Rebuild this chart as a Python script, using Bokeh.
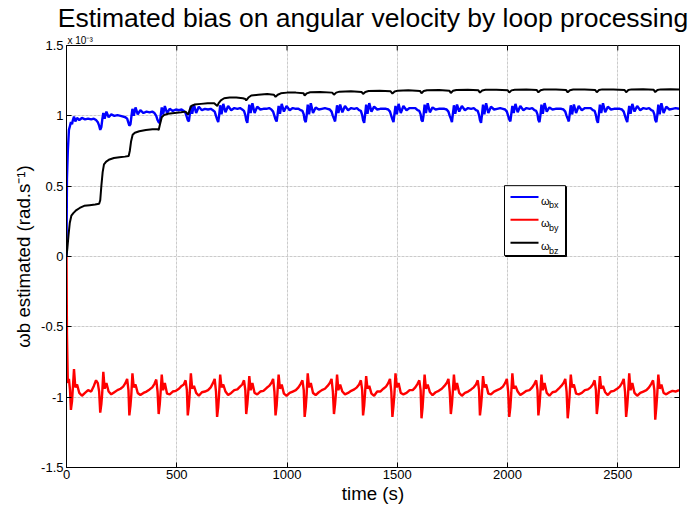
from bokeh.plotting import figure
from bokeh.models import (Range1d, FixedTicker, LinearAxis, CustomJSTickFormatter, Grid, Title)
from bokeh.core.properties import value
from bokeh.embed import file_html
from bokeh.resources import INLINE

# ---------------- data (values in units of 1e-3 rad/s) ----------------
time_rb = [
    0, 2, 6, 11, 16,
    20, 25, 29, 34, 40, 48, 58, 70, 84, 98, 112, 124, 134, 142, 148,
    153, 158, 162, 167, 173, 181, 191, 203, 217, 231, 245, 257, 267, 275, 281,
    285, 290, 294, 299, 305, 313, 323, 335, 349, 363, 377, 389, 399, 407, 413,
    418, 423, 427, 432, 438, 446, 456, 468, 482, 496, 510, 522, 532, 540, 546,
    550, 555, 559, 564, 570, 578, 588, 600, 614, 628, 642, 654, 664, 672, 678,
    683, 688, 692, 697, 703, 711, 721, 733, 747, 761, 775, 787, 797, 805, 811,
    815, 820, 824, 829, 835, 843, 853, 865, 879, 893, 907, 919, 929, 937, 943,
    948, 953, 957, 962, 968, 976, 986, 998, 1012, 1026, 1040, 1052, 1062, 1070, 1076,
    1080, 1085, 1089, 1094, 1100, 1108, 1118, 1130, 1144, 1158, 1172, 1184, 1194, 1202, 1208,
    1213, 1218, 1222, 1227, 1233, 1241, 1251, 1263, 1277, 1291, 1305, 1317, 1327, 1335, 1341,
    1345, 1350, 1354, 1359, 1365, 1373, 1383, 1395, 1409, 1423, 1437, 1449, 1459, 1467, 1473,
    1478, 1483, 1487, 1492, 1498, 1506, 1516, 1528, 1542, 1556, 1570, 1582, 1592, 1600, 1606,
    1610, 1615, 1619, 1624, 1630, 1638, 1648, 1660, 1674, 1688, 1702, 1714, 1724, 1732, 1738,
    1743, 1748, 1752, 1757, 1763, 1771, 1781, 1793, 1807, 1821, 1835, 1847, 1857, 1865, 1871,
    1875, 1880, 1884, 1889, 1895, 1903, 1913, 1925, 1939, 1953, 1967, 1979, 1989, 1997, 2003,
    2008, 2013, 2017, 2022, 2028, 2036, 2046, 2058, 2072, 2086, 2100, 2112, 2122, 2130, 2136,
    2140, 2145, 2149, 2154, 2160, 2168, 2178, 2190, 2204, 2218, 2232, 2244, 2254, 2262, 2268,
    2273, 2278, 2282, 2287, 2293, 2301, 2311, 2323, 2337, 2351, 2365, 2377, 2387, 2395, 2401,
    2405, 2410, 2414, 2419, 2425, 2433, 2443, 2455, 2469, 2483, 2497, 2509, 2519, 2527, 2533,
    2538, 2543, 2547, 2552, 2558, 2566, 2576, 2588, 2602, 2616, 2630, 2642, 2652, 2660, 2666,
    2670, 2675, 2679, 2684, 2690, 2698, 2708, 2720, 2734, 2748, 2762, 2778,
]

w_bx = [
    0.0, 0.55, 0.75, 0.90, 0.93,
    0.955, 0.94, 0.97, 0.995, 0.96, 0.985, 0.97, 0.985, 0.975, 0.98, 0.975, 0.98, 0.97, 0.955, 0.93,
    0.90, 0.92, 0.97, 1.02, 0.98, 1.03, 0.99, 1.01, 1.0, 1.005, 1.0, 0.995, 0.99, 0.98, 0.95,
    0.93, 0.94, 0.99, 1.05, 1.0, 1.06, 1.01, 1.04, 1.02, 1.03, 1.025, 1.03, 1.02, 1.0, 0.97,
    0.955, 0.95, 1.0, 1.06, 1.01, 1.07, 1.02, 1.05, 1.035, 1.045, 1.04, 1.045, 1.035, 1.02, 0.99,
    0.97, 0.96, 1.01, 1.07, 1.015, 1.08, 1.02, 1.065, 1.04, 1.05, 1.045, 1.05, 1.04, 1.03, 1.0,
    0.975, 0.955, 1.00, 1.075, 1.01, 1.085, 1.025, 1.07, 1.04, 1.055, 1.05, 1.055, 1.045, 1.035, 1.005,
    0.97, 0.95, 1.01, 1.08, 1.02, 1.09, 1.02, 1.065, 1.045, 1.05, 1.05, 1.055, 1.045, 1.03, 1.0,
    0.975, 0.96, 1.005, 1.07, 1.015, 1.085, 1.03, 1.07, 1.04, 1.055, 1.05, 1.05, 1.04, 1.035, 1.01,
    0.97, 0.955, 1.00, 1.08, 1.01, 1.09, 1.02, 1.06, 1.045, 1.05, 1.055, 1.05, 1.045, 1.03, 1.0,
    0.98, 0.96, 1.01, 1.075, 1.02, 1.08, 1.025, 1.07, 1.04, 1.055, 1.05, 1.055, 1.04, 1.035, 1.005,
    0.97, 0.95, 1.005, 1.08, 1.015, 1.09, 1.03, 1.065, 1.045, 1.05, 1.05, 1.05, 1.045, 1.03, 1.0,
    0.975, 0.955, 1.01, 1.07, 1.01, 1.085, 1.02, 1.07, 1.04, 1.055, 1.055, 1.055, 1.04, 1.035, 1.01,
    0.97, 0.96, 1.0, 1.08, 1.02, 1.09, 1.025, 1.06, 1.045, 1.05, 1.05, 1.05, 1.045, 1.03, 1.0,
    0.98, 0.955, 1.01, 1.075, 1.015, 1.08, 1.03, 1.07, 1.04, 1.055, 1.05, 1.055, 1.04, 1.035, 1.005,
    0.97, 0.95, 1.005, 1.08, 1.01, 1.09, 1.02, 1.065, 1.045, 1.05, 1.055, 1.05, 1.045, 1.03, 1.0,
    0.975, 0.96, 1.01, 1.07, 1.02, 1.085, 1.025, 1.07, 1.04, 1.055, 1.05, 1.055, 1.04, 1.035, 1.01,
    0.97, 0.955, 1.0, 1.08, 1.015, 1.09, 1.03, 1.06, 1.045, 1.05, 1.05, 1.05, 1.045, 1.03, 1.0,
    0.98, 0.96, 1.01, 1.075, 1.01, 1.08, 1.02, 1.07, 1.04, 1.055, 1.055, 1.055, 1.04, 1.035, 1.005,
    0.97, 0.95, 1.005, 1.08, 1.02, 1.09, 1.025, 1.065, 1.045, 1.05, 1.05, 1.05, 1.045, 1.03, 1.0,
    0.975, 0.955, 1.01, 1.07, 1.015, 1.085, 1.03, 1.07, 1.04, 1.055, 1.05, 1.055, 1.04, 1.035, 1.01,
    0.97, 0.955, 1.0, 1.08, 1.01, 1.09, 1.02, 1.065, 1.045, 1.05, 1.055, 1.05,
]

w_by = [
    0.0, -0.55, -0.90, -0.87, -0.95,
    -1.09, -1.03, -0.93, -0.80, -0.93, -0.91, -0.97, -0.99, -0.97, -0.95, -0.96, -0.92, -0.88, -0.90, -0.96,
    -1.11, -1.05, -0.97, -0.82, -0.94, -0.90, -0.96, -0.98, -0.965, -0.95, -0.94, -0.925, -0.90, -0.87, -0.95,
    -1.13, -1.06, -0.98, -0.83, -0.93, -0.91, -0.97, -0.985, -0.97, -0.96, -0.945, -0.93, -0.905, -0.875, -0.96,
    -1.12, -1.05, -0.96, -0.84, -0.95, -0.90, -0.975, -0.98, -0.96, -0.955, -0.94, -0.92, -0.91, -0.88, -0.95,
    -1.13, -1.06, -0.97, -0.83, -0.94, -0.92, -0.97, -0.99, -0.965, -0.96, -0.95, -0.93, -0.90, -0.87, -0.96,
    -1.14, -1.07, -0.98, -0.84, -0.93, -0.91, -0.96, -0.985, -0.97, -0.95, -0.945, -0.925, -0.91, -0.88, -0.95,
    -1.12, -1.05, -0.97, -0.85, -0.95, -0.90, -0.97, -0.98, -0.96, -0.955, -0.935, -0.92, -0.90, -0.87, -0.96,
    -1.13, -1.06, -0.96, -0.84, -0.94, -0.91, -0.975, -0.99, -0.97, -0.96, -0.95, -0.93, -0.905, -0.88, -0.95,
    -1.14, -1.07, -0.98, -0.83, -0.93, -0.90, -0.97, -0.985, -0.965, -0.95, -0.94, -0.92, -0.90, -0.87, -0.96,
    -1.12, -1.05, -0.97, -0.84, -0.95, -0.91, -0.96, -0.98, -0.97, -0.955, -0.945, -0.93, -0.91, -0.88, -0.95,
    -1.13, -1.06, -0.97, -0.85, -0.94, -0.92, -0.975, -0.99, -0.96, -0.96, -0.94, -0.925, -0.90, -0.87, -0.96,
    -1.14, -1.06, -0.98, -0.83, -0.93, -0.90, -0.97, -0.98, -0.97, -0.95, -0.95, -0.93, -0.905, -0.88, -0.95,
    -1.15, -1.07, -0.97, -0.84, -0.94, -0.91, -0.965, -0.985, -0.965, -0.955, -0.94, -0.92, -0.90, -0.87, -0.96,
    -1.12, -1.05, -0.96, -0.84, -0.95, -0.90, -0.97, -0.99, -0.97, -0.96, -0.945, -0.93, -0.91, -0.88, -0.95,
    -1.13, -1.06, -0.98, -0.85, -0.93, -0.91, -0.975, -0.98, -0.96, -0.95, -0.94, -0.925, -0.90, -0.87, -0.96,
    -1.14, -1.07, -0.97, -0.83, -0.94, -0.92, -0.96, -0.985, -0.97, -0.955, -0.95, -0.93, -0.905, -0.88, -0.95,
    -1.13, -1.06, -0.97, -0.84, -0.95, -0.90, -0.97, -0.99, -0.965, -0.96, -0.94, -0.92, -0.90, -0.87, -0.96,
    -1.15, -1.07, -0.98, -0.84, -0.93, -0.91, -0.975, -0.98, -0.97, -0.95, -0.945, -0.93, -0.91, -0.88, -0.95,
    -1.12, -1.05, -0.96, -0.85, -0.94, -0.92, -0.965, -0.985, -0.96, -0.955, -0.94, -0.925, -0.90, -0.87, -0.96,
    -1.14, -1.06, -0.97, -0.83, -0.95, -0.90, -0.97, -0.99, -0.97, -0.96, -0.95, -0.93, -0.905, -0.88, -0.95,
    -1.16, -1.07, -0.98, -0.84, -0.94, -0.91, -0.97, -0.98, -0.965, -0.955, -0.96, -0.95,
]

time_bz = [
    0, 4, 9, 15, 22, 32, 45, 60, 80, 105,
    130, 148, 153, 158, 164, 170, 180, 195, 215, 240,
    265, 282, 287, 293, 300, 310, 330, 360, 390, 412,
    418, 424, 432, 442, 460, 490, 520, 540, 548, 552,
    558, 566, 580, 610, 640, 670, 680, 684, 690, 700,
    715, 740, 770, 800, 811, 815, 825, 838, 870, 910,
    940, 948, 958, 972, 1000, 1040, 1075, 1080, 1090, 1105,
    1150, 1205, 1213, 1223, 1238, 1290, 1338, 1345, 1355, 1370,
    1420, 1470, 1478, 1488, 1503, 1550, 1603, 1610, 1620, 1635,
    1690, 1736, 1743, 1753, 1768, 1820, 1868, 1875, 1885, 1900,
    1950, 2001, 2008, 2018, 2033, 2085, 2133, 2140, 2150, 2165,
    2220, 2266, 2273, 2283, 2298, 2350, 2398, 2405, 2415, 2430,
    2480, 2531, 2538, 2548, 2563, 2615, 2663, 2670, 2680, 2695,
    2740, 2778,
]

w_bz = [
    0.0, 0.06, 0.15, 0.24, 0.29, 0.31, 0.33, 0.345, 0.36, 0.365,
    0.37, 0.375, 0.40, 0.50, 0.60, 0.655, 0.675, 0.69, 0.70, 0.705,
    0.71, 0.715, 0.75, 0.82, 0.865, 0.88, 0.89, 0.90, 0.905, 0.905,
    0.90, 0.94, 0.99, 1.005, 1.015, 1.02, 1.025, 1.03, 1.015, 1.01,
    1.04, 1.07, 1.08, 1.085, 1.09, 1.09, 1.075, 1.07, 1.09, 1.11,
    1.125, 1.13, 1.13, 1.125, 1.12, 1.11, 1.13, 1.145, 1.15, 1.155,
    1.15, 1.135, 1.15, 1.16, 1.165, 1.165, 1.16, 1.145, 1.16, 1.168,
    1.17, 1.165, 1.15, 1.165, 1.172, 1.174, 1.17, 1.155, 1.17, 1.176,
    1.178, 1.174, 1.158, 1.173, 1.179, 1.181, 1.177, 1.161, 1.176, 1.182,
    1.183, 1.179, 1.163, 1.178, 1.184, 1.185, 1.181, 1.165, 1.18, 1.185,
    1.186, 1.182, 1.166, 1.181, 1.186, 1.187, 1.183, 1.167, 1.182, 1.187,
    1.187, 1.183, 1.167, 1.182, 1.187, 1.188, 1.184, 1.168, 1.183, 1.188,
    1.188, 1.184, 1.168, 1.183, 1.188, 1.189, 1.185, 1.169, 1.183, 1.188,
    1.189, 1.188,
]

x_ticks = [0, 500, 1000, 1500, 2000, 2500]
x_tick_labels = ["0", "500", "1000", "1500", "2000", "2500"]
y_ticks = [-1.5, -1.0, -0.5, 0.0, 0.5, 1.0, 1.5]
y_tick_labels = ["-1.5", "-1", "-0.5", "0", "0.5", "1", "1.5"]
series_subscripts = ["bx", "by", "bz"]
series_colors = ["#0000ff", "#ff0000", "#000000"]
title_text = "Estimated bias on angular velocity by loop processing"
x_label_text = "time (s)"
y_label_text = "ωb estimated (rad.s⁻¹)"
exponent_text = "x 10⁻³"

# ---------------- layout (pixels) ----------------
W, H = 693, 512
L, R, T, B = 66, 14, 41, 45
FW, FH = W - L - R, H - T - B
X0, X1 = 0.0, 2780.0
Y0, Y1 = -1.5, 1.5
FONT = "Liberation Sans"

p = figure(width=W, height=H, output_backend="svg", toolbar_location=None,
           x_range=Range1d(X0, X1), y_range=Range1d(Y0, Y1),
           min_border_left=L, min_border_right=R, min_border_top=T, min_border_bottom=B,
           x_axis_location=None, y_axis_location=None)
p.outline_line_color = "black"
p.outline_line_width = 1

# title + exponent marker (Title models live in the border, so they are not clipped)
p.add_layout(Title(text=exponent_text, align="left", offset=1, standoff=0,
                   text_font=FONT, text_font_size="10px", text_font_style="normal",
                   text_color="black"), "above")
p.title.text = title_text
p.title.align = "center"
p.title.offset = 2
p.title.standoff = 0
p.title.text_font = FONT
p.title.text_font_size = "26.5px"
p.title.text_font_style = "normal"
p.title.text_color = "black"

def px2x(px):
    return X0 + (px - L) / FW * (X1 - X0)

def py2y(py):
    return Y1 - (py - T) / FH * (Y1 - Y0)

def make_axis(ticks, labels, show_labels):
    ax = LinearAxis(ticker=FixedTicker(ticks=ticks))
    if show_labels:
        ax.major_label_overrides = {t: s for t, s in zip(ticks, labels)}
        ax.major_label_text_font_size = "13px"
    else:
        ax.formatter = CustomJSTickFormatter(code="return ''")
        ax.major_label_text_font_size = "0px"
        ax.major_label_standoff = 0
    ax.major_tick_in = 5
    ax.major_tick_out = 0
    ax.minor_tick_in = 0
    ax.minor_tick_out = 0
    ax.axis_line_color = "black"
    ax.major_tick_line_color = "black"
    ax.major_label_text_font = FONT
    ax.major_label_text_color = "black"
    ax.axis_label_text_font = FONT
    ax.axis_label_text_font_size = "18.7px"
    ax.axis_label_text_font_style = "normal"
    ax.axis_label_text_color = "black"
    return ax

xb = make_axis(x_ticks, x_tick_labels, True)
xb.major_label_standoff = 2
xb.axis_label = x_label_text
xb.axis_label_standoff = 1
yl = make_axis(y_ticks, y_tick_labels, True)
yl.major_label_standoff = 3
yl.axis_label = y_label_text
yl.axis_label_standoff = 4
p.add_layout(xb, "below")
p.add_layout(yl, "left")
p.add_layout(make_axis(y_ticks, y_tick_labels, False), "right")

for dim, ticks in ((0, x_ticks), (1, y_ticks)):
    g = Grid(dimension=dim, ticker=FixedTicker(ticks=ticks))
    g.grid_line_color = "#b0b0b0"
    g.grid_line_dash = "1 3"
    g.grid_line_width = 1
    p.add_layout(g)

# inward tick marks on the top edge (box on)
tick_len = 5.0 / FH * (Y1 - Y0)
p.segment(x0=x_ticks, x1=x_ticks, y0=[Y1] * len(x_ticks), y1=[Y1 - tick_len] * len(x_ticks),
          line_color="black", line_width=1)

# ---------------- series ----------------
p.line(time_rb, w_bx, line_color=series_colors[0], line_width=2.4)
p.line(time_rb, w_by, line_color=series_colors[1], line_width=2.4)
p.line(time_bz, w_bz, line_color=series_colors[2], line_width=2.0)

# ---------------- legend (drawn by hand so that subscripts are possible) ----------------
leg_l, leg_r, leg_t, leg_b = 504, 565, 182.5, 253
p.quad(left=[px2x(leg_l + 1)], right=[px2x(leg_r + 1)], top=[py2y(leg_t + 1)],
       bottom=[py2y(leg_b + 1)], fill_color="black", line_color="black", line_width=1)
p.quad(left=[px2x(leg_l)], right=[px2x(leg_r)], top=[py2y(leg_t)], bottom=[py2y(leg_b)],
       fill_color="white", line_color="black", line_width=1)
for i, (sub, col) in enumerate(zip(series_subscripts, series_colors)):
    cy = 194 + i * 23
    p.line([px2x(510), px2x(538)], [py2y(cy), py2y(cy)], line_color=col, line_width=2)
    p.text(x=[px2x(540.5)], y=[py2y(cy + 3.5)], text=["ω"], text_font=value(FONT),
           text_font_size="11px", text_color="black", text_baseline="alphabetic")
    p.text(x=[px2x(548.5)], y=[py2y(cy + 8.5)], text=[sub], text_font=value(FONT),
           text_font_size="9px", text_color="black", text_baseline="alphabetic")

open("out.html", "w").write(file_html(p, INLINE))
